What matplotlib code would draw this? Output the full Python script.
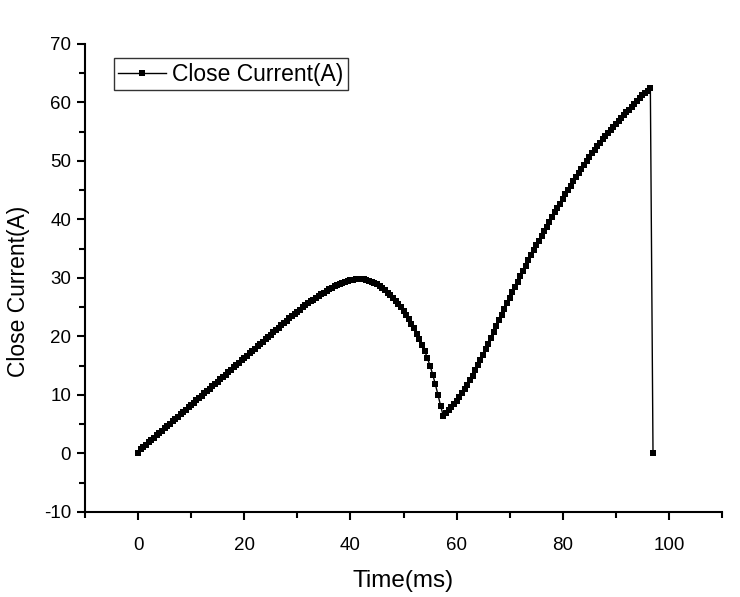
import matplotlib
matplotlib.use("Agg")
import matplotlib.pyplot as plt
from matplotlib.ticker import MultipleLocator

plt.rcParams['font.family'] = ['Liberation Sans', 'DejaVu Sans']
plt.rcParams['axes.unicode_minus'] = False

# time axis, sampled every 0.5 ms (0 .. 97 ms)
time_ms = [i * 0.5 for i in range(195)]

# closing coil current (A)
close_current = [
    0.0, 0.7, 1.1, 1.5, 1.9, 2.3, 2.7, 3.1, 3.5, 3.9,
    4.3, 4.7, 5.1, 5.5, 5.9, 6.3, 6.7, 7.1, 7.5, 7.9,
    8.3, 8.7, 9.1, 9.5, 9.9, 10.3, 10.7, 11.1, 11.5, 11.9,
    12.3, 12.7, 13.1, 13.5, 13.9, 14.3, 14.7, 15.1, 15.5, 15.9,
    16.3, 16.7, 17.1, 17.5, 17.9, 18.3, 18.7, 19.1, 19.5, 19.9,
    20.3, 20.7, 21.1, 21.5, 21.9, 22.3, 22.7, 23.1, 23.5, 23.8,
    24.2, 24.6, 25.0, 25.3, 25.7, 26.0, 26.3, 26.6, 26.9, 27.2,
    27.5, 27.8, 28.1, 28.3, 28.6, 28.8, 29.0, 29.2, 29.3, 29.5,
    29.6, 29.7, 29.8, 29.85, 29.85, 29.8, 29.7, 29.55, 29.4, 29.2,
    28.9, 28.6, 28.3, 27.9, 27.5, 27.1, 26.6, 26.1, 25.6, 25.0,
    24.4, 23.7, 23.0, 22.2, 21.4, 20.5, 19.6, 18.6, 17.5, 16.3,
    15.0, 13.5, 11.8, 10.0, 8.1, 6.4, 6.9, 7.4, 7.9, 8.4,
    8.9, 9.6, 10.3, 11.0, 11.7, 12.5, 13.3, 14.2, 15.1, 16.0,
    16.9, 17.9, 18.8, 19.8, 20.8, 21.8, 22.8, 23.7, 24.7, 25.7,
    26.6, 27.6, 28.5, 29.4, 30.3, 31.2, 32.1, 33.0, 33.9, 34.7,
    35.6, 36.4, 37.2, 38.0, 38.8, 39.6, 40.4, 41.2, 41.9, 42.7,
    43.5, 44.3, 45.1, 45.8, 46.6, 47.3, 48.0, 48.7, 49.4, 50.0,
    50.7, 51.3, 51.9, 52.5, 53.1, 53.7, 54.2, 54.8, 55.3, 55.8,
    56.3, 56.8, 57.3, 57.8, 58.3, 58.8, 59.3, 59.8, 60.3, 60.8,
    61.2, 61.6, 62.0, 62.4, 0.0,
]

fig = plt.figure(figsize=(7.4, 5.97), dpi=100)
ax = fig.add_axes([0.1149, 0.1424, 0.8608, 0.7839])

ax.plot(time_ms, close_current, color='black', linewidth=1.0,
        marker='s', markersize=3.8, markeredgewidth=0, label='Close Current(A)')

ax.set_xlim(-10, 110)
ax.set_ylim(-10, 70)
ax.xaxis.set_major_locator(MultipleLocator(20))
ax.xaxis.set_minor_locator(MultipleLocator(10))
ax.yaxis.set_major_locator(MultipleLocator(10))
ax.yaxis.set_minor_locator(MultipleLocator(5))

for side in ['top', 'right']:
    ax.spines[side].set_visible(False)
for side in ['left', 'bottom']:
    ax.spines[side].set_linewidth(1.5)

ax.tick_params(which='major', direction='out', length=6, width=1.5, labelsize=13.5)
ax.tick_params(which='minor', direction='out', length=4, width=1.5)
ax.tick_params(axis='x', which='major', pad=12)
ax.tick_params(axis='y', which='major', pad=4)

ax.set_xlabel('Time(ms)', fontsize=17.5)
ax.set_ylabel('Close Current(A)', fontsize=16.5)
ax.xaxis.set_label_coords(0.5, -0.125)
ax.yaxis.set_label_coords(-0.087, 0.472)

leg = ax.legend(loc='upper left', bbox_to_anchor=(0.045, 0.97), fontsize=16.5,
                frameon=True, fancybox=False, borderpad=0.2, handlelength=2.1,
                handletextpad=0.25, borderaxespad=0)
leg.get_frame().set_edgecolor('black')
leg.get_frame().set_linewidth(1.0)

fig.savefig('out.png', dpi=100)
